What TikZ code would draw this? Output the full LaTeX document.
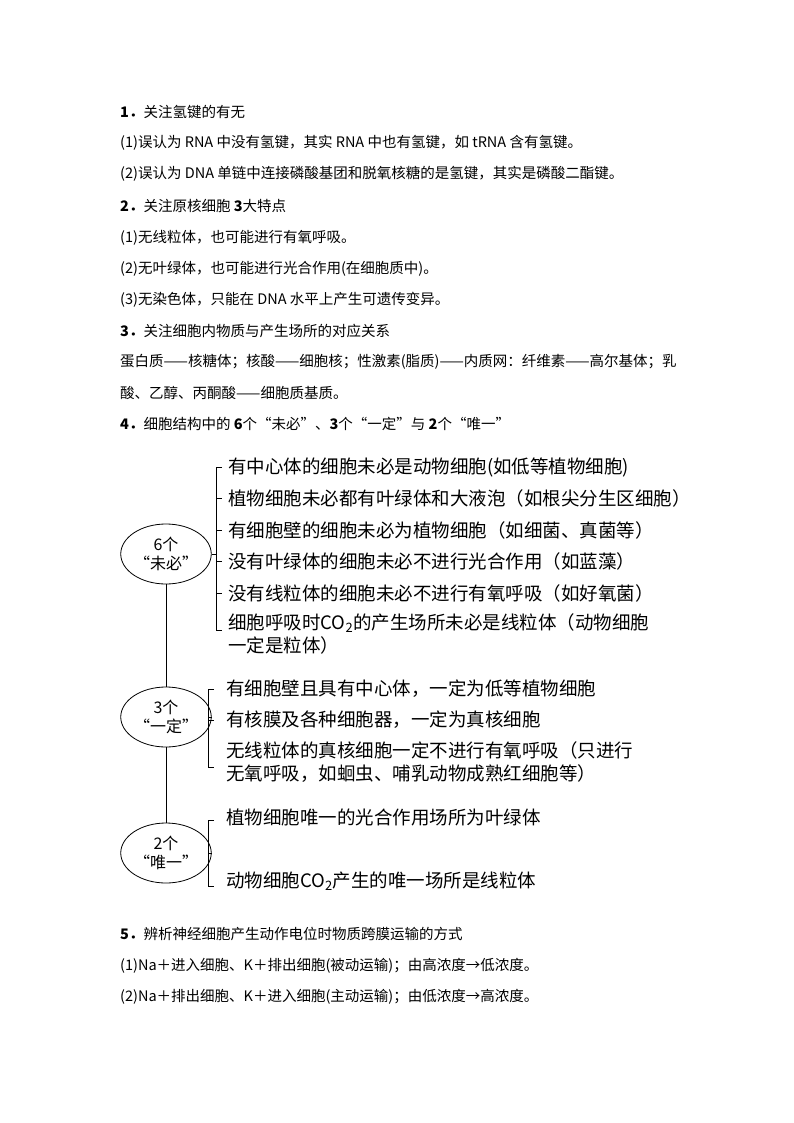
\documentclass[tikz,border=0pt]{standalone}
\usepackage{fontspec}
\setmainfont{Liberation Sans}
\newfontfamily\cjk{Noto Sans CJK SC}
\usetikzlibrary{positioning,shapes.geometric}

\begin{document}
\begin{tikzpicture}[x=1pt,y=-1pt]
    \tikzstyle{body} = [anchor=west,inner sep=0pt,font=\cjk\fontsize{14.5}{17}\selectfont]
    \tikzstyle{head} = [body]
    \tikzstyle{item} = [anchor=west,inner sep=0pt,font=\cjk\fontsize{18.5}{23}\selectfont,align=left]
    \tikzstyle{oval} = [ellipse,draw=black,thick,minimum width=70pt,minimum height=60pt,inner sep=0pt,align=center,font=\cjk\fontsize{16}{19}\selectfont]
    \tikzstyle{brk} = [draw=black,thick]

    \useasboundingbox [fill=white] (0,0) rectangle (794,1123);

    \node (h1) [head] at (120,112) {\textbf{1．}关注氢键的有无};
    \node (t11) [body] at (120,143) {(1)误认为 RNA 中没有氢键，其实 RNA 中也有氢键，如 tRNA 含有氢键。};
    \node (t12) [body] at (120,174) {(2)误认为 DNA 单链中连接磷酸基团和脱氧核糖的是氢键，其实是磷酸二酯键。};
    \node (h2) [head] at (120,206) {\textbf{2．}关注原核细胞 \textbf{3}大特点};
    \node (t21) [body] at (120,238) {(1)无线粒体，也可能进行有氧呼吸。};
    \node (t22) [body] at (120,269) {(2)无叶绿体，也可能进行光合作用(在细胞质中)。};
    \node (t23) [body] at (120,300) {(3)无染色体，只能在 DNA 水平上产生可遗传变异。};
    \node (h3) [head] at (120,331) {\textbf{3．}关注细胞内物质与产生场所的对应关系};
    \node (t31) [body] at (120,362) {蛋白质——核糖体；核酸——细胞核；性激素(脂质)——内质网：纤维素——高尔基体；乳};
    \node (t32) [body] at (120,393) {酸、乙醇、丙酮酸——细胞质基质。};
    \node (h4) [head] at (120,424) {\textbf{4．}细胞结构中的 \textbf{6}个“未必”、\textbf{3}个“一定”与 \textbf{2}个“唯一”};

    % ovals
    \node (e1) [oval] at (166,554) {6个\\“未必”};
    \node (e2) [oval] at (166,717) {3个\\“一定”};
    \node (e3) [oval] at (166,853) {2个\\“唯一”};
    \draw [brk] (e1.south) -- (e2.north);
    \draw [brk] (e2.south) -- (e3.north);

    % 6 items
    \node (a1) [item] at (228,467) {有中心体的细胞未必是动物细胞(如低等植物细胞)};
    \node (a2) [item] at (228,498) {植物细胞未必都有叶绿体和大液泡（如根尖分生区细胞）};
    \node (a3) [item] at (228,530) {有细胞壁的细胞未必为植物细胞（如细菌、真菌等）};
    \node (a4) [item] at (228,561) {没有叶绿体的细胞未必不进行光合作用（如蓝藻）};
    \node (a5) [item] at (228,593) {没有线粒体的细胞未必不进行有氧呼吸（如好氧菌）};
    \node (a6) [item,anchor=north west] at (228,613) {细胞呼吸时CO\textsubscript{2}的产生场所未必是线粒体（动物细胞\\一定是粒体）};
    \coordinate (b1) at (216,554);
    \draw [brk] (e1.east) -- (b1);
    \draw [brk] (222,467) -- (216,467) -- (216,630) -- (222,630);
    \foreach \y in {498,530,561,593} \draw [brk] (216,\y) -- (222,\y);

    % 3 items
    \node (c1) [item] at (226,689) {有细胞壁且具有中心体，一定为低等植物细胞};
    \node (c2) [item] at (226,720) {有核膜及各种细胞器，一定为真核细胞};
    \node (c3) [item,anchor=north west] at (226,741) {无线粒体的真核细胞一定不进行有氧呼吸（只进行\\无氧呼吸，如蛔虫、哺乳动物成熟红细胞等）};
    \coordinate (b2) at (208,717);
    \draw [brk] (e2.east) -- (b2);
    \draw [brk] (214,689) -- (208,689) -- (208,767) -- (214,767);
    \draw [brk] (208,720) -- (214,720);

    % 2 items
    \node (d1) [item] at (226,817) {植物细胞唯一的光合作用场所为叶绿体};
    \node (d2) [item] at (226,881) {动物细胞CO\textsubscript{2}产生的唯一场所是线粒体};
    \coordinate (b3) at (208,853);
    \draw [brk] (e3.east) -- (b3);
    \draw [brk] (214,820) -- (208,820) -- (208,886) -- (214,886);

    \node (h5) [head] at (120,934) {\textbf{5．}辨析神经细胞产生动作电位时物质跨膜运输的方式};
    \node (t51) [body] at (120,966) {(1)Na＋进入细胞、K＋排出细胞(被动运输)；由高浓度→低浓度。};
    \node (t52) [body] at (120,997) {(2)Na＋排出细胞、K＋进入细胞(主动运输)；由低浓度→高浓度。};
\end{tikzpicture}
\end{document}
